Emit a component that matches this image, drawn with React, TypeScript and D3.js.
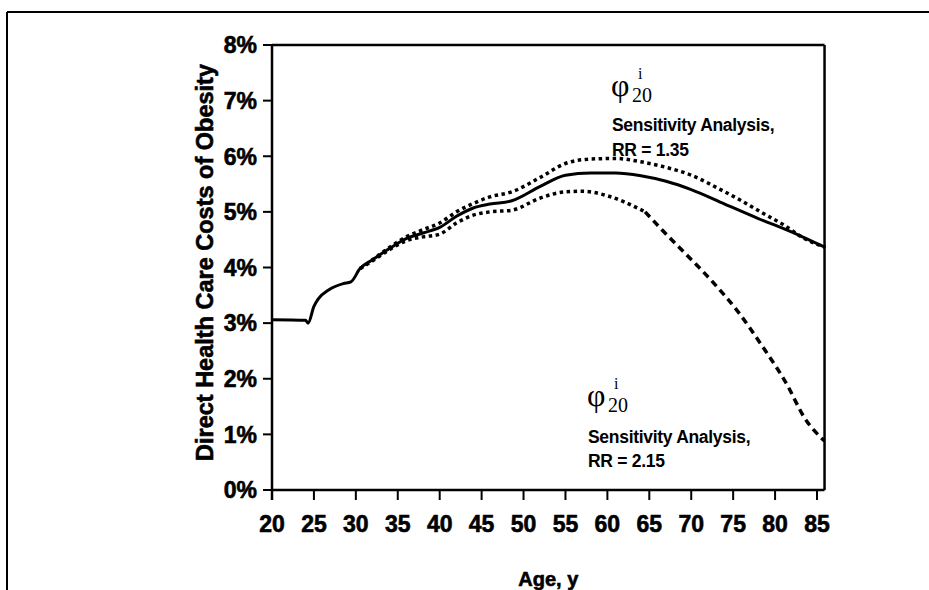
import React from "react";
import * as d3 from "d3";

// ---- data ----
const baseAges = [20, 24, 24.3, 25, 25.5, 26.8, 28.5, 29.4, 30.5, 32, 34, 36, 38, 40, 42, 44, 46, 48.6, 52, 55, 58, 61, 64, 67, 70, 74, 78, 80, 83, 86];
const baseVals = [3.06, 3.05, 3.0, 3.3, 3.43, 3.6, 3.71, 3.74, 3.98, 4.14, 4.34, 4.52, 4.62, 4.72, 4.92, 5.07, 5.14, 5.2, 5.46, 5.66, 5.7, 5.7, 5.65, 5.55, 5.4, 5.14, 4.88, 4.76, 4.57, 4.36];

const upperAges = [30.5, 32, 34, 36, 38, 40, 42, 44, 46, 48.6, 52, 55, 58, 61, 64, 67, 70, 73.5, 76, 78.5, 81, 83.5, 86];
const upperVals = [3.98, 4.14, 4.36, 4.55, 4.68, 4.8, 5.0, 5.15, 5.27, 5.36, 5.62, 5.87, 5.95, 5.96, 5.9, 5.8, 5.66, 5.4, 5.2, 4.98, 4.77, 4.52, 4.36];

const lowerAges = [30.5, 32, 34, 36, 38, 40, 42, 44, 46, 48.6, 52, 55, 57, 60, 62, 64.5, 66.5, 69.5, 72.5, 75.5, 78.5, 81.4, 83.5, 85.9];
const lowerVals = [3.98, 4.12, 4.32, 4.48, 4.55, 4.6, 4.8, 4.94, 5.0, 5.03, 5.25, 5.36, 5.37, 5.29, 5.18, 5.0, 4.68, 4.22, 3.75, 3.22, 2.58, 1.9, 1.3, 0.88];
const lowerDashFromAge = 64.5;

const xTicks = [20, 25, 30, 35, 40, 45, 50, 55, 60, 65, 70, 75, 80, 85];
const yTicks = [0, 1, 2, 3, 4, 5, 6, 7, 8];

const yTitle = "Direct Health Care Costs of Obesity";
const xTitle = "Age, y";
const note1 = ["Sensitivity Analysis,", "RR = 1.35"];
const note2 = ["Sensitivity Analysis,", "RR = 2.15"];

type P = [number, number];
const zip = (a: number[], b: number[]): P[] => a.map((v, i) => [v, b[i]]);

export default function App() {
  const W = 929, H = 590;
  const top = 45, bottom = 490;
  const x = d3.scaleLinear().domain([20, 85]).range([272, 817]);
  const left = x(20), right = x(85.9);
  const y = d3.scaleLinear().domain([0, 8]).range([bottom, top]);
  const line = d3.line<P>().x(d => x(d[0])).y(d => y(d[1])).curve(d3.curveMonotoneX);

  const base = zip(baseAges, baseVals);
  const upper = zip(upperAges, upperVals);
  const lower = zip(lowerAges, lowerVals);
  const lowerA = lower.filter(d => d[0] <= lowerDashFromAge);
  const lowerB = lower.filter(d => d[0] >= lowerDashFromAge);

  const sans = "'Liberation Sans', Arial, sans-serif";
  const serif = "'Liberation Serif', 'Times New Roman', serif";

  const phi = (px: number, py: number) => (
    <g fontFamily={serif} fill="#000">
      <text x={px} y={py} fontSize={32}>φ</text>
      <text x={px + 21} y={py + 6} fontSize={20}>20</text>
      <text x={px + 27} y={py - 17} fontSize={16}>i</text>
    </g>
  );

  const noteStyle = { fontFamily: sans, fontWeight: "bold" as const, fontSize: 17.5, letterSpacing: -0.3 };
  const heavy = { fontFamily: sans, fontWeight: "bold" as const, stroke: "#000", strokeWidth: 0.6 };

  return (
    <svg width={W} height={H} style={{ position: "absolute", left: 0, top: 0, background: "#fff" }}>
      <rect x={0} y={0} width={W} height={H} fill="#fff" />
      {/* outer frame: top and left */}
      <line x1={7} y1={12} x2={W} y2={12} stroke="#000" strokeWidth={2} />
      <line x1={7} y1={12} x2={7} y2={H} stroke="#000" strokeWidth={2} />

      {/* plot box */}
      <line x1={left} y1={top} x2={right} y2={top} stroke="#000" strokeWidth={2.5} />
      <line x1={right} y1={top} x2={right} y2={bottom} stroke="#000" strokeWidth={2.5} />
      <line x1={left} y1={bottom} x2={right} y2={bottom} stroke="#000" strokeWidth={2.5} />
      <line x1={left} y1={top} x2={left} y2={bottom + 10} stroke="#000" strokeWidth={2.5} />

      {/* y ticks */}
      {yTicks.map(t => (
        <g key={"y" + t}>
          <line x1={left - 9} x2={left} y1={y(t)} y2={y(t)} stroke="#000" strokeWidth={2} />
          <text x={left - 15} y={y(t)} dy="0.36em" textAnchor="end" fontSize={23} {...heavy}>{t}%</text>
        </g>
      ))}
      {/* x ticks */}
      {xTicks.map(t => (
        <g key={"x" + t}>
          <line x1={x(t)} x2={x(t)} y1={bottom} y2={bottom + 10} stroke="#000" strokeWidth={2} />
          <text x={x(t)} y={532} textAnchor="middle" fontSize={23} {...heavy}>{t}</text>
        </g>
      ))}

      {/* titles */}
      <text transform={`translate(213,${(top + bottom) / 2 - 5}) rotate(-90)`} textAnchor="middle" fontSize={23.5} {...heavy}>{yTitle}</text>
      <text x={(left + right) / 2} y={586} textAnchor="middle" fontSize={20} {...heavy}>{xTitle}</text>

      {/* series */}
      <path d={line(upper) || ""} fill="none" stroke="#000" strokeWidth={3.5} strokeDasharray="3.5 3.5" />
      <path d={line(lowerA) || ""} fill="none" stroke="#000" strokeWidth={3.5} strokeDasharray="3.5 3.5" />
      <path d={line(lowerB) || ""} fill="none" stroke="#000" strokeWidth={3.5} strokeDasharray="7 5" />
      <path d={line(base) || ""} fill="none" stroke="#000" strokeWidth={3} />

      {/* annotations */}
      {phi(611, 96)}
      <text x={612} y={131} {...noteStyle}>{note1[0]}</text>
      <text x={612} y={156} {...noteStyle}>{note1[1]}</text>
      {phi(587, 406)}
      <text x={588} y={443} {...noteStyle}>{note2[0]}</text>
      <text x={588} y={467} {...noteStyle}>{note2[1]}</text>
    </svg>
  );
}
